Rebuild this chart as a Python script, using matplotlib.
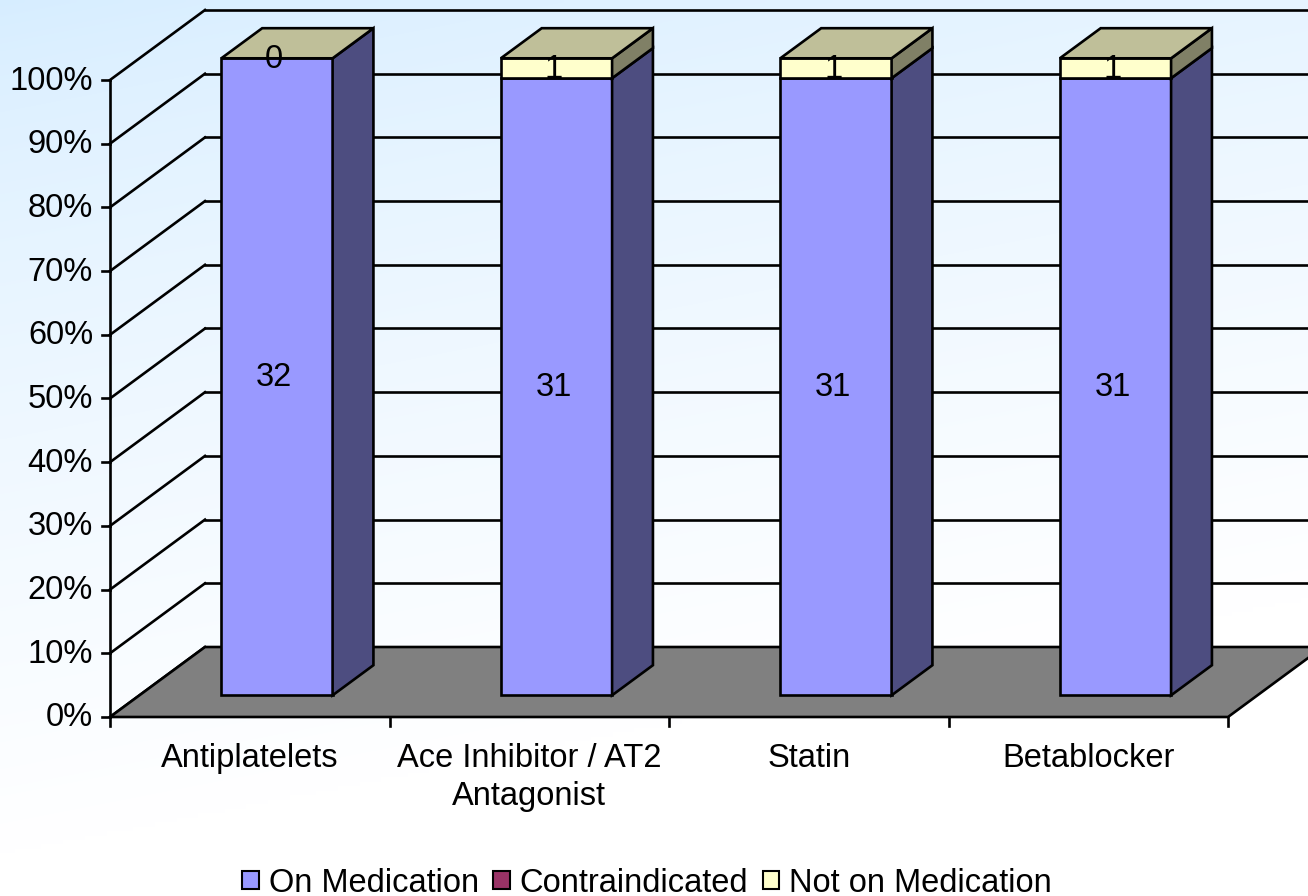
import numpy as np
import matplotlib
matplotlib.use("Agg")
import matplotlib.pyplot as plt
from matplotlib.patches import Polygon, Patch

categories = ["Antiplatelets", "Ace Inhibitor / AT2\nAntagonist", "Statin", "Betablocker"]
on_med = [32, 31, 31, 31]
contra = [0, 0, 0, 0]
not_on = [0, 1, 1, 1]
series_names = ["On Medication", "Contraindicated", "Not on Medication"]
series_colors = ["#9999FF", "#993366", "#FFFFCC"]
yticks = np.arange(0, 101, 10)

plt.rcParams['font.family'] = ['Liberation Sans', 'DejaVu Sans']
FS = 23.5

W, H = 1308, 896
fig = plt.figure(figsize=(W / 100, H / 100), dpi=100)
ax = fig.add_axes([0, 0, 1, 1])
ax.set_xlim(0, W)
ax.set_ylim(H, 0)
ax.axis('off')

# background gradient (light blue top-left -> white)
gy, gx = np.mgrid[0:1:200j, 0:1:300j]
t = np.clip(gy * 1.05 + gx * 0.3, 0, 1) ** 0.75
c0 = np.array([0.84, 0.93, 1.0])
c1 = np.array([1.0, 1.0, 1.0])
img = c0[None, None, :] * (1 - t[..., None]) + c1[None, None, :] * t[..., None]
ax.imshow(img, extent=[0, W, H, 0], aspect='auto', zorder=0, interpolation='bilinear')

# simple oblique projection: c = category units, pct = percent, d = depth 0..1
X0, Y0 = 110, 717
CAT_W = 279.5
PCT = 6.37
DX, DY = 95, -70
LW = 1.9


def P(c, pct, d):
    return (X0 + c * CAT_W + d * DX, Y0 - pct * PCT + d * DY)


ncat = len(categories)

# back wall gridlines and left wall lines
for p in yticks:
    bx, by = P(0, p, 1)
    ax.plot([bx, W + 5], [by, by], color='black', lw=LW, zorder=1)
    fx, fy = P(0, p, 0)
    ax.plot([fx, bx], [fy, by], color='black', lw=LW, zorder=1)

# floor
floor = [P(0, 0, 0), P(ncat, 0, 0), P(ncat, 0, 1), P(0, 0, 1)]
ax.add_patch(Polygon(floor, closed=True, facecolor='#808080', edgecolor='black', lw=LW, zorder=2))


def shade(col, f):
    rgb = np.array(matplotlib.colors.to_rgb(col))
    return tuple(rgb * f)


# bars
d0, d1 = 0.31, 0.74
half = 0.199
for i in range(ncat):
    vals = [on_med[i], contra[i], not_on[i]]
    tot = sum(vals)
    cl = i + 0.5 - half - 0.008
    cr = i + 0.5 + half - 0.008
    lo = 0.0
    for v, col in zip(vals, series_colors):
        hi = lo + v / tot * 100
        if v > 0:
            front = [P(cl, lo, d0), P(cr, lo, d0), P(cr, hi, d0), P(cl, hi, d0)]
            side = [P(cr, lo, d0), P(cr, lo, d1), P(cr, hi, d1), P(cr, hi, d0)]
            ax.add_patch(Polygon(front, closed=True, facecolor=col, edgecolor='black', lw=LW, zorder=3))
            ax.add_patch(Polygon(side, closed=True, facecolor=shade(col, 0.5), edgecolor='black', lw=LW, zorder=3))
        lo = hi
    top = [P(cl, 100, d0), P(cr, 100, d0), P(cr, 100, d1), P(cl, 100, d1)]
    ax.add_patch(Polygon(top, closed=True, facecolor=shade(series_colors[-1], 0.75),
                         edgecolor='black', lw=LW, zorder=3))
    # data labels
    cx = P(i + 0.5 - 0.018, 0, d0)[0]
    lo = 0.0
    for k, v in enumerate(vals):
        hi = lo + v / tot * 100
        if k != 1:
            ax.text(cx, P(0, (lo + hi) / 2, d0)[1] + 1, str(v), ha='center', va='center',
                    fontsize=FS, color='black', zorder=5)
        lo = hi

# front vertical axis, ticks and labels
ax.plot([X0, X0], [P(0, 0, 0)[1], P(0, 100, 0)[1]], color='black', lw=LW, zorder=4)
for p in yticks:
    x, y = P(0, p, 0)
    ax.plot([x - 8, x], [y, y], color='black', lw=LW, zorder=4)
    ax.text(x - 17, y + 1, f"{p}%", ha='right', va='center', fontsize=FS, zorder=5)

# category axis ticks and labels
for i in range(ncat + 1):
    x, y = P(i, 0, 0)
    ax.plot([x, x], [y, y + 9], color='black', lw=LW, zorder=4)
for i, lab in enumerate(categories):
    x, y = P(i + 0.5, 0, 0)
    ax.text(x, y + 26, lab, ha='center', va='top', fontsize=FS, linespacing=1.3, zorder=5)

handles = [Patch(facecolor=c, edgecolor='black', lw=1.5) for c in series_colors]
ax.legend(handles, series_names, loc='center', bbox_to_anchor=(647, 883),
          bbox_transform=ax.transData, ncol=3, frameon=False, fontsize=FS,
          handlelength=0.5, handleheight=0.5, handletextpad=0.3, columnspacing=0.45)

fig.savefig("out.png", dpi=100)
